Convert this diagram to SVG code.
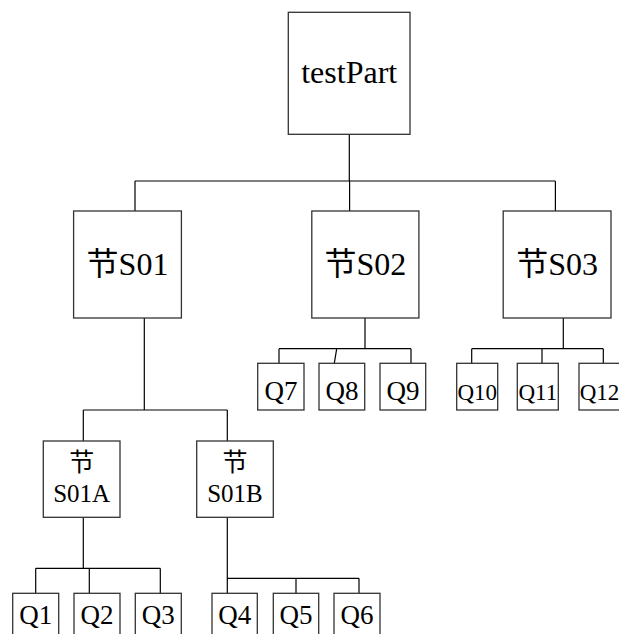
<svg xmlns="http://www.w3.org/2000/svg" width="619" height="634" viewBox="0 0 619 634">
  <style>
    .box { fill: #fff; stroke: #333; stroke-width: 1.3; }
    .wire { fill: none; stroke: #000; stroke-width: 1.2; }
    text { font-family: "Liberation Serif", "Noto Sans CJK SC", serif; fill: #000; text-anchor: middle; }
    .t1 { font-size: 32px; }
    .t2 { font-size: 32px; }
    .t3 { font-size: 25px; }
    .tq { font-size: 27px; }
    .tqs { font-size: 23px; }
  </style>
  <rect width="619" height="634" fill="#fff"/>

  <!-- connectors -->
  <g id="connectors" class="wire">
    <!-- root to sections -->
    <path d="M349.3 134 V181 M135 181 H555.4 M135 181 V211 M349.6 181 V211 M555.4 181 V211"/>
    <!-- section S01 to subsections -->
    <path d="M144.3 318 V410 M83.3 410 H227.3 M83.3 410 V441 M227.3 410 V441"/>
    <!-- section S02 to Q7..Q9 -->
    <path d="M365 318 V348.7 M279 348.7 H411 M279 348.7 V363.3 M336.7 348.7 L334.3 363.3 M411 348.7 V363.3"/>
    <!-- section S03 to Q10..Q12 -->
    <path d="M563.3 318 V348.7 M471.7 348.7 H603.3 M471.7 348.7 V363.3 M542 348.7 V363.3 M603.3 348.7 V363.3"/>
    <!-- S01A to Q1..Q3 -->
    <path d="M83.3 517 V568.3 M35.7 568.3 H160.3 M35.7 568.3 V593.3 M89.3 568.3 V593.3 M160.3 568.3 V593.3"/>
    <!-- S01B to Q4..Q6 -->
    <path d="M227.3 517 V593.3 M227.3 578.3 H359 M296 578.3 V593.3 M359 578.3 V593.3"/>
  </g>

  <g id="testPart">
    <rect class="box" x="288.3" y="12.3" width="121.7" height="122"/>
    <text class="t1" x="349.2" y="83">testPart</text>
  </g>

  <g id="S01">
    <rect class="box" x="73.6" y="211" width="107.8" height="107"/>
    <text class="t2" x="127.5" y="275">节S01</text>
  </g>
  <g id="S02">
    <rect class="box" x="311.8" y="211" width="107.1" height="107"/>
    <text class="t2" x="365.3" y="275">节S02</text>
  </g>
  <g id="S03">
    <rect class="box" x="503.2" y="211" width="107.8" height="107"/>
    <text class="t2" x="557.1" y="275">节S03</text>
  </g>

  <g id="S01A">
    <rect class="box" x="43.3" y="441" width="76.7" height="76.3"/>
    <text class="t3" x="81.7" y="471">节</text>
    <text class="t3" x="81.7" y="502">S01A</text>
  </g>
  <g id="S01B">
    <rect class="box" x="196.7" y="441" width="76.6" height="76.3"/>
    <text class="t3" x="235" y="471">节</text>
    <text class="t3" x="235" y="502">S01B</text>
  </g>

  <g id="Q7"><rect class="box" x="257.7" y="363.3" width="46.3" height="46.7"/><text class="tq" x="280.9" y="400">Q7</text></g>
  <g id="Q8"><rect class="box" x="319" y="363.3" width="45.7" height="46.7"/><text class="tq" x="341.9" y="400">Q8</text></g>
  <g id="Q9"><rect class="box" x="380" y="363.3" width="45.7" height="46.7"/><text class="tq" x="402.9" y="400">Q9</text></g>

  <g id="Q10"><rect class="box" x="456.7" y="363.3" width="41" height="46.7"/><text class="tqs" x="477.2" y="400">Q10</text></g>
  <g id="Q11"><rect class="box" x="517.3" y="363.3" width="41" height="46.7"/><text class="tqs" x="537.8" y="400">Q11</text></g>
  <g id="Q12"><rect class="box" x="579" y="363.3" width="41" height="46.7"/><text class="tqs" x="599.5" y="400">Q12</text></g>

  <g id="Q1"><rect class="box" x="12.7" y="593.3" width="46" height="47"/><text class="tq" x="35.7" y="624">Q1</text></g>
  <g id="Q2"><rect class="box" x="74" y="593.3" width="46" height="47"/><text class="tq" x="97" y="624">Q2</text></g>
  <g id="Q3"><rect class="box" x="135.3" y="593.3" width="46" height="47"/><text class="tq" x="158.3" y="624">Q3</text></g>
  <g id="Q4"><rect class="box" x="212" y="593.3" width="45.3" height="47"/><text class="tq" x="234.7" y="624">Q4</text></g>
  <g id="Q5"><rect class="box" x="273.3" y="593.3" width="45.4" height="47"/><text class="tq" x="296" y="624">Q5</text></g>
  <g id="Q6"><rect class="box" x="334" y="593.3" width="46" height="47"/><text class="tq" x="357" y="624">Q6</text></g>
</svg>
